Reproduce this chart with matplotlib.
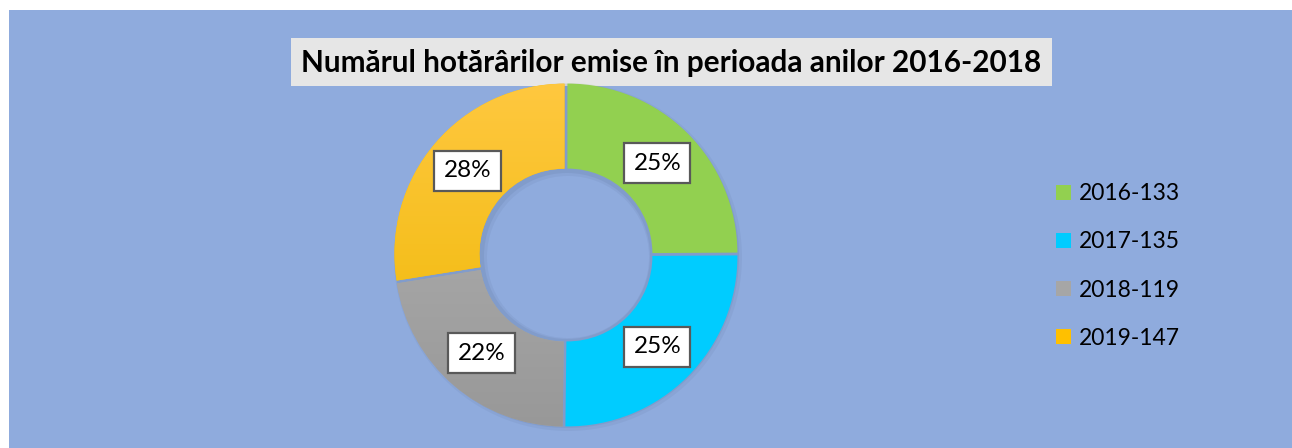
#!/usr/bin/env python3
"""Donut chart: number of decisions issued per year."""

import matplotlib.pyplot as plt
import numpy as np
from matplotlib.colors import LinearSegmentedColormap
from matplotlib.patches import Patch, Rectangle, Wedge

TITLE = "Numărul hotărârilor emise în perioada anilor 2016-2018"
YEARS = ["2016", "2017", "2018", "2019"]
COUNTS = [133, 135, 119, 147]
LABELS = [f"{y}-{c}" for y, c in zip(YEARS, COUNTS)]

BG = "#8FABDD"
COLORS = ["#92D050", "#00CCFF", "#A6A6A6", "#FFC000"]
GRADIENTS = [None, None, ("#B4B4B4", "#989898"), ("#FFC840", "#EDB700")]
FONT = "Lato"

W, H = 1292, 448
fig = plt.figure(figsize=(W / 100, H / 100), dpi=100)
fig.patch.set_facecolor("white")
fig.patches.append(Rectangle((9 / W, 0), 1 - 9 / W, 1 - 10 / H, transform=fig.transFigure,
                             facecolor=BG, edgecolor="none", zorder=-2))

# title box
fig.patches.append(Rectangle((291 / W, 1 - 86 / H), 761 / W, 48 / H, transform=fig.transFigure,
                             facecolor="#E6E6E6", edgecolor="none", zorder=-1))
fig.text(671 / W, 1 - 63 / H, TITLE, ha="center", va="center", fontsize=21.4,
         fontweight="bold", family=FONT, color="black")

# donut axes, pixel units: center (566, 255), radius 170
cx, cy, half = 566, 255, 190
ax = fig.add_axes([(cx - half) / W, (H - cy - half) / H, 2 * half / W, 2 * half / H])
ax.set_zorder(2)
ax.patch.set_visible(False)
ax.set_xlim(-half, half)
ax.set_ylim(-half, half)
ax.set_aspect("equal")
ax.axis("off")

R, RING = 170, 85
# faint shadow ring
for off, a in [(4, 0.06), (2, 0.08)]:
    ax.add_patch(Wedge((off / 2, -off / 2), R + off, 0, 360, width=RING + 2 * off,
                       facecolor="#2F3F60", edgecolor="none", alpha=a, zorder=0))

wedges, texts, autotexts = ax.pie(
    COUNTS, radius=R, startangle=90, counterclock=False, colors=COLORS,
    explode=[2, 2, 2, 2], autopct=lambda p: f"{p:.0f}%", pctdistance=0.75,
    wedgeprops=dict(width=RING, edgecolor="none", linewidth=0),
    textprops=dict(fontsize=17.5, family=FONT, color="black"),
)
for w, grad in zip(wedges, GRADIENTS):
    if grad is None:
        continue
    cmap = LinearSegmentedColormap.from_list("g", [grad[1], grad[0]])
    img = ax.imshow(np.linspace(0, 1, 256).reshape(-1, 1), cmap=cmap, origin="lower",
                    extent=(-R - 5, R + 5, -R - 5, R + 5), aspect="auto", zorder=2)
    img.set_clip_path(w)
for t in autotexts:
    t.set_zorder(5)
    t.set_bbox(dict(boxstyle="square,pad=0.38", facecolor="white", edgecolor="#595959", linewidth=1.6))
ax.set_xlim(-half, half)
ax.set_ylim(-half, half)

handles = [Patch(facecolor=c, edgecolor="none") for c in COLORS]
fig.legend(handles, LABELS, loc="upper left", bbox_to_anchor=(1045 / W, 1 - 172 / H),
           frameon=False, prop=dict(family=FONT, size=16.5), handlelength=0.65,
           handleheight=0.65, handletextpad=0.35, labelspacing=1.18, borderpad=0)

fig.savefig("out.png", dpi=100, facecolor=fig.get_facecolor())
